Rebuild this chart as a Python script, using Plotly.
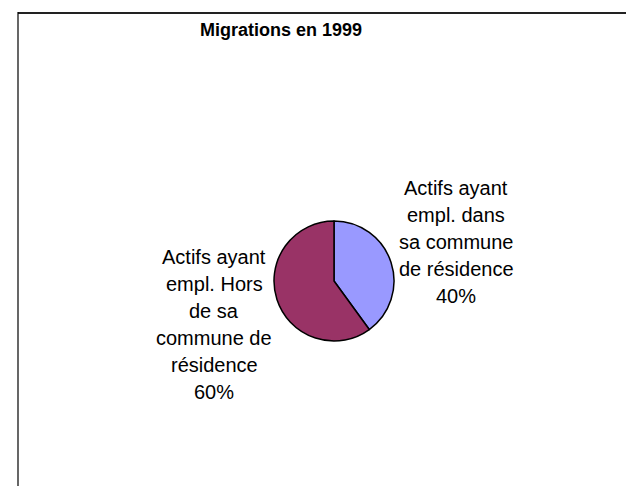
import plotly.graph_objects as go

# Data
title_text = "Migrations en 1999"
labels = ["Actifs ayant<br>empl. dans<br>sa commune<br>de résidence",
          "Actifs ayant<br>empl. Hors<br>de sa<br>commune de<br>résidence"]
values = [40, 60]
colors = ["#9999FF", "#993366"]

W, H = 626, 486


def px_x(x):
    return x / W


def px_y(y):
    return 1 - y / H


fig = go.Figure()
fig.add_trace(go.Pie(
    labels=labels,
    values=values,
    sort=False,
    direction="clockwise",
    rotation=0,
    marker=dict(colors=colors, line=dict(color="#000000", width=1.5)),
    textinfo="none",
    hoverinfo="label+percent",
    showlegend=False,
    domain=dict(x=[px_x(273), px_x(395)], y=[px_y(341), px_y(221)]),
))

total = sum(values)
label_pos = [(456, 195), (214, 264)]  # (center x, first baseline) in px
step = 27
font = dict(family="Liberation Sans, Arial, sans-serif", size=20, color="#000000")
for lab, v, (cx, by) in zip(labels, values, label_pos):
    lines = lab.split("<br>") + [f"{round(100 * v / total)}%"]
    for i, line in enumerate(lines):
        fig.add_annotation(
            text=line, xref="paper", yref="paper",
            x=px_x(cx), y=px_y(by + i * step - 7),
            xanchor="center", yanchor="middle",
            showarrow=False, font=font,
        )

fig.add_annotation(
    text=f"<b>{title_text}</b>", xref="paper", yref="paper",
    x=px_x(281), y=px_y(30), xanchor="center", yanchor="middle",
    showarrow=False,
    font=dict(family="Liberation Sans, Arial, sans-serif", size=18, color="#000000"),
)

# frame lines
fig.add_shape(type="line", xref="paper", yref="paper",
              x0=px_x(18), x1=1.02, y0=px_y(13), y1=px_y(13),
              line=dict(color="#222222", width=2))
fig.add_shape(type="line", xref="paper", yref="paper",
              x0=px_x(18), x1=px_x(18), y0=px_y(12), y1=-0.02,
              line=dict(color="#000000", width=1.2))

fig.update_layout(
    width=W, height=H,
    margin=dict(l=0, r=0, t=0, b=0),
    paper_bgcolor="white", plot_bgcolor="white",
)

fig.write_html("out.html")
